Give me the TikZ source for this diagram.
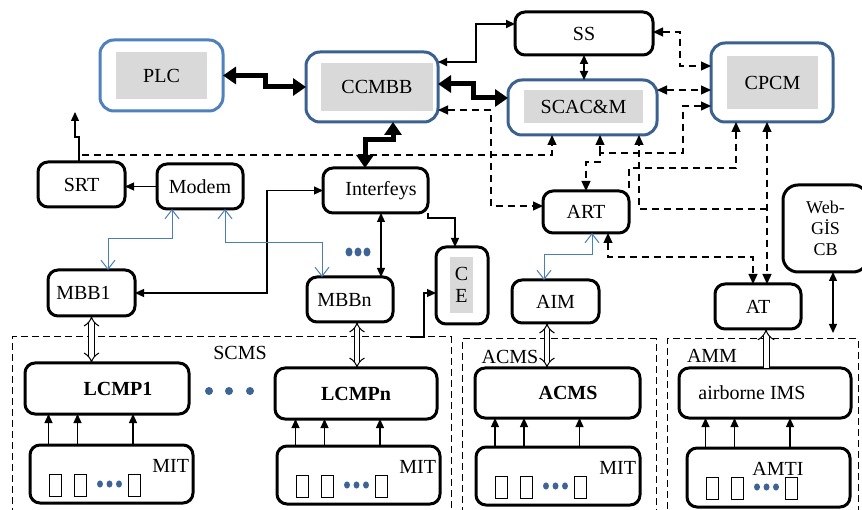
\documentclass[tikz,border=0pt]{standalone}
\usepackage{fontspec}
\setmainfont{Liberation Serif}
\usetikzlibrary{arrows.meta,calc}
\definecolor{plcblue}{HTML}{4F81BD}
\definecolor{coreblue}{HTML}{3B6190}
\definecolor{linkblue}{HTML}{4A7EBB}
\definecolor{dotblue}{HTML}{3E6496}
\definecolor{grayfill}{HTML}{D9D9D9}

% sensor symbols inside a measuring-terminal box (#1 = box name)
\newcommand\sensorrow[1]{%
  \draw[line width=0.9pt] ($(#1.north west)+(19,29)$) rectangle ++(12,22);
  \draw[line width=0.9pt] ($(#1.north west)+(44,29)$) rectangle ++(12,22);
  \foreach \k in {70,79.5,89} \fill[dotblue] ($(#1.north west)+(\k,39)$) ellipse (3pt and 3.6pt);
  \draw[line width=0.9pt] ($(#1.north west)+(98,29)$) rectangle ++(12,22);
}

\tikzset{
  Tm/.tip={Triangle[length=9pt,width=8pt]},
  Td/.tip={Triangle[length=10pt,width=9pt]},
  Tk/.tip={Triangle[length=13pt,width=17pt]},
  Bb/.tip={Straight Barb[length=9pt,width=14pt]},
  every node/.style={font=\fontsize{20}{24}\selectfont, inner sep=0pt, outer sep=0pt},
  sz/.style 2 args={minimum width=#1pt, minimum height=#2pt},
  blk/.style={draw=black, line width=3pt, rounded corners=10pt},
  blubox/.style={draw=#1, line width=3pt, rounded corners=14pt},
  grayin/.style={fill=grayfill},
  region/.style={draw=black, line width=1pt, dash pattern=on 7pt off 4pt},
  med/.style={line width=1.2pt},
  med2/.style={line width=2pt},
  dsh/.style={line width=1.3pt, dash pattern=on 7pt off 5pt},
  thk/.style={line width=5pt, Tk-Tk},
  blu/.style={draw=linkblue, line width=1pt, Bb-Bb},
  hol/.style={double=white, double distance=4.5pt, line width=1pt, {Implies}-{Implies}},
  holw/.style={double=white, double distance=5pt, line width=1pt, -{Implies}},
}

\begin{document}
\begin{tikzpicture}[x=1pt,y=-1pt]
\useasboundingbox (0,0) rectangle (862,510);
\clip (0,0) rectangle (862,510);
\fill[white] (0,0) rectangle (862,510);

% ---------- dashed subsystem frames ----------
\node[region, sz={439}{183}] (scms) at (231.5,428.5) {};
\node[region, sz={194}{181}] (acms) at (559,429.5) {};
\node[region, sz={191}{181}] (amm) at (762.5,429.5) {};
\node (scmsl) at (240,353) {SCMS};
\node (acmsl) at (510,357) {ACMS};
\node (amml) at (712,356) {AMM};

% ---------- control centre ----------
\node[blubox=plcblue, sz={123}{71}] (plc) at (161.5,75.5) {};
\node[grayin, sz={91}{47}] (plcin) at (161.5,75.5) {PLC};
\node[blubox=coreblue, sz={132}{70}] (ccmbb) at (372,87) {};
\node[grayin, sz={112}{48}] (ccmbbin) at (377,87) {CCMBB};
\node[blk, sz={138}{43}] (ss) at (584,33.5) {SS};
\node[blubox=coreblue, sz={149}{55}] (scac) at (582.5,107.5) {};
\node[grayin, sz={119}{33}] (scacin) at (583.5,106.5) {SCAC\&M};
\node[blubox=coreblue, sz={122}{79}] (cpcm) at (772,82.5) {};
\node[grayin, sz={91}{53}] (cpcmin) at (772.5,82.5) {CPCM};

% ---------- middle level ----------
\node[blk, sz={87}{45}] (srt) at (81.5,184.5) {SRT};
\node[blk, sz={86}{45}] (modem) at (200,186.5) {Modem};
\node[blk, sz={87}{46}, label={[xshift=-8pt]center:MBB1}] (mbb1) at (91.5,293) {};
\node[blk, sz={105}{45}, label={[xshift=5.5pt]center:Interfeys}] (interf) at (375.5,190.5) {};
\node[blk, sz={86}{45}, label={[xshift=-5.5pt]center:MBBn}] (mbbn) at (350,299.5) {};
\node[blk, sz={52}{77}] (ce) at (462,285.5) {};
\node[grayin, sz={23}{56}, align=center, font=\fontsize{20}{22}\selectfont] (cein) at (461.5,285) {C\\E};
\node[blk, sz={87}{43}] (aim) at (555.5,301.5) {AIM};
\node[blk, sz={86}{42}] (art) at (586,212) {ART};
\node[blk, sz={86}{45}] (atn) at (758,306.5) {AT};
\node[blk, rounded corners=15pt, sz={85}{87}, align=center, font=\fontsize{18}{21}\selectfont] (webgis) at (825.5,228.5) {Web-\\GİS\\CB};

% ---------- processors ----------
\node[blk, sz={164}{51}, label={[xshift=11pt]center:\textbf{LCMP1}}] (lcmp1) at (107,388.5) {};
\node[blk, sz={162}{51}] (lcmpn) at (356,393.5) {\textbf{LCMPn}};
\node[blk, sz={165}{50}, label={[xshift=10.5pt]center:\textbf{ACMS}}] (acmsb) at (557.5,393) {};
\node[blk, sz={172}{50}, label={[xshift=-13pt]center:airborne IMS}] (aims) at (765,393) {};

% ---------- measuring terminals ----------
\node[blk, sz={163}{58}] (mit1) at (111.5,474) {};
\node[blk, sz={163}{58}] (mitn) at (358.5,475) {};
\node[blk, sz={164}{58}] (mita) at (558,476) {};
\node[blk, sz={163}{59}] (amti) at (768.5,477.5) {};
\node[anchor=east] (mit1t) at ($(mit1.north east)+(-4,21)$) {MIT};
\node[anchor=east] (mitnt) at ($(mitn.north east)+(-4,21)$) {MIT};
\node[anchor=east] (mitat) at ($(mita.north east)+(-4,21)$) {MIT};
\node (amtit) at (778,469) {AMTI};
\sensorrow{mit1}
\sensorrow{mitn}
\sensorrow{mita}
\sensorrow{amti}

\foreach \b/\t in {mit1/lcmp1, mitn/lcmpn, mita/acmsb, amti/aims}
  \foreach \dx in {-63,-34,21.5}
    \draw[med, -Tm] ($(\b.north)+(\dx,0)$) coordinate (qq) -- (qq |- \t.south);

% ellipsis dots
\foreach \x in {209,229,250} \fill[dotblue] (\x,391) circle (4pt);
\foreach \x in {349,358,367} \fill[dotblue] (\x,252) ellipse (3.5pt and 4.5pt);

% ---------- thick backbone links ----------
\draw[thk] (plc.east) -- ++(42,0) |- (ccmbb.west);
\draw[thk] ($(ccmbb.east)+(0,-3)$) -- ++(35,0) |- ($(scac.west)+(0,-9.5)$);
\draw[thk] ($(ccmbb.south)+(21,0)$) -- ++(0,18) -| ($(interf.north)+(-10.5,0)$);

% ---------- solid links ----------
\draw[med2, Tm-Tm] ($(ccmbb.north east)+(0,10)$) -- ++(38,0) |- ($(ss.north west)+(0,12)$);
\draw[med2, Tm-Tm] (ss.south) -- (ss.south |- scac.north);
\coordinate (srtup) at (75,112);
\draw[med, -Tm] ($(srt.north)+(-2.5,0)$) -- ++(0,-25) -| (srtup);
\draw[med, -Tm] (modem.west) -- (modem.west -| srt.east);
\draw[med, Tm-Tm] (mbb1.east) -- ++(132,0) |- (interf.west);
\draw[med, Tm-Tm] ($(interf.south)+(5.5,0)$) coordinate (q3) -- (q3 |- mbbn.north);
\draw[med, -Tm] (interf.south east) -- ++(0,5) -| ($(ce.north)+(-7,0)$);
\draw[med, -Tm] ($(scms.north east)+(-41,0)$) -| ($(ce.west)+(-12,7.5)$) -- ($(ce.west)+(0,7.5)$);
\draw[med, Tm-Tm, shorten >=6pt] ($(webgis.south)+(7.5,0)$) coordinate (q7) -- (q7 |- amm.north);

% ---------- dashed information links ----------
\draw[dsh, Td-Td] ($(ss.east)+(0,-1.5)$) -- ++(27,0) |- ($(cpcm.west)+(0,-16.5)$);
\draw[dsh, Td-Td] ($(scac.east)+(0,-17.5)$) coordinate (q1) -- (q1 -| cpcm.west);
\coordinate (j1) at (600,153);
\draw[dsh, Td-Td] ($(cpcm.west)+(0,23.5)$) -| (683,153) -- (j1) -- (600,162) -| (art.north);
\draw[dsh, -Td] (j1) -- (j1 |- scac.south);
\draw[dsh, -Td] ($(srt.north)+(0,-7)$) -| ($(scac.south)+(-30.5,0)$);
\draw[dsh, Td-Td] ($(ccmbb.east)+(0,23)$) -- (491,110) |- ($(art.west)+(0,-6)$);
\draw[dsh, Td-] ($(cpcm.south)+(-36,0)$) |- (629,168) -- (art.north east);
\draw[dsh, Td-Td] ($(cpcm.south)+(-5,0)$) coordinate (q2) -- (q2 |- atn.north);
\draw[dsh, -Td] (767,209) -| ($(scac.south)+(56.5,0)$);
\draw[dsh, Td-Td] ($(art.south)+(22,0)$) |- (753,257) -- ($(atn.north)+(-5,0)$);

% ---------- radio links ----------
\draw[blu] ($(modem.south)+(-28,0)$) -- ++(0,30) -| ($(mbb1.north)+(16.5,0)$);
\draw[blu] ($(modem.south)+(25,0)$) -- ++(0,34) -| ($(mbbn.north)+(-28,0)$);
\draw[blu] ($(art.south)+(6,0)$) -- ++(0,22) -| ($(aim.north)+(-11.5,0)$);

% ---------- bus interfaces ----------
\draw[hol] (mbb1.south) -- (mbb1.south |- lcmp1.north);
\draw[hol] ($(mbbn.south)+(7,0)$) coordinate (q4) -- (q4 |- lcmpn.north);
\draw[hol] ($(aim.south)+(-8.5,0)$) coordinate (q5) -- (q5 |- acmsb.north);
\draw[holw] ($(aims.north)+(1,0)$) coordinate (q6) -- (q6 |- atn.south);
\end{tikzpicture}
\end{document}
